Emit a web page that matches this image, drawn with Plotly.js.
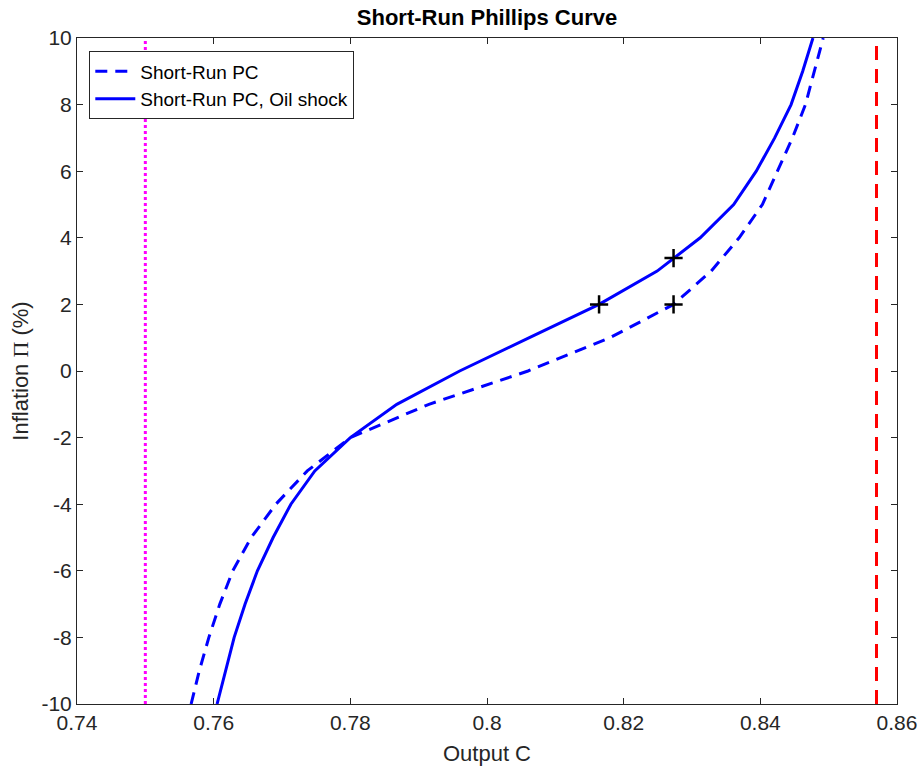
<!DOCTYPE html>
<html>
<head>
<meta charset="utf-8">
<script src="https://cdn.plot.ly/plotly-3.0.1.min.js"></script>
<style>html,body{margin:0;padding:0;background:#fff;}#chart{width:919px;height:767px;}</style>
</head>
<body>
<div id="chart"></div>
<script>
// Inflation levels (%) at which each curve is sampled
const inflation = [-10,-9,-8,-7,-6,-5,-4,-3,-2,-1,0,1,2,3,4,5,6,7,8,9,10];
// Output C for the baseline short-run Phillips curve
const outputPC = [0.7567,0.7579,0.7593,0.7609,0.7628,0.7655,0.7691,0.7737,0.7800,0.7915,0.8060,0.8180,0.8273,0.8328,0.8369,0.8403,0.8425,0.8447,0.8466,0.8479,0.8492];
// Output C for the short-run Phillips curve after the oil shock
const outputOil = [0.7605,0.7617,0.7630,0.7646,0.7664,0.7687,0.7713,0.7748,0.7800,0.7868,0.7960,0.8062,0.8164,0.8249,0.8312,0.8361,0.8394,0.8421,0.8445,0.8462,0.8477];
// Marked equilibrium points
const markX = [0.8164, 0.8273, 0.8273];
const markY = [2.0, 3.39, 2.0];
// Vertical reference lines
const magentaX = 0.75;
const redX = 0.857;
const yRange = [-10, 10];
const xRange = [0.74, 0.86];

const FONT = 'Liberation Sans, Arial, sans-serif';

const traces = [
  {x: outputPC, y: inflation, mode: 'lines', name: 'Short-Run PC',
   line: {color: '#0000ff', width: 3, dash: '12px,8px'}},
  {x: outputOil, y: inflation, mode: 'lines', name: 'Short-Run PC, Oil shock',
   line: {color: '#0000ff', width: 3}},
  {x: [magentaX, magentaX], y: yRange, mode: 'lines', showlegend: false,
   line: {color: '#ff00ff', width: 3, dash: 'dot'}},
  {x: [redX, redX], y: yRange, mode: 'lines', showlegend: false,
   line: {color: '#ff0000', width: 3, dash: '14px,9px'}},
  {x: markX, y: markY, mode: 'markers', showlegend: false,
   marker: {symbol: 'cross-thin', size: 13, color: '#000', line: {color: '#000', width: 2.5}}}
];

const axisCommon = {
  showgrid: false, zeroline: false, showline: true, mirror: 'ticks',
  linecolor: '#262626', linewidth: 1, ticks: 'inside', ticklen: 6,
  tickcolor: '#262626', tickwidth: 1,
  tickfont: {family: FONT, size: 21, color: '#262626'}
};

const layout = {
  width: 919, height: 767,
  margin: {l: 77, r: 22, t: 38, b: 63},
  paper_bgcolor: '#fff', plot_bgcolor: '#fff',
  font: {family: FONT, color: '#262626'},
  title: {text: '<b>Short-Run Phillips Curve</b>', xref: 'paper', x: 0.5, xanchor: 'center', y: 0.978, yanchor: 'middle',
          font: {family: FONT, size: 22, color: '#000'}},
  xaxis: Object.assign({}, axisCommon, {
    range: xRange, tickvals: [0.74,0.76,0.78,0.8,0.82,0.84,0.86],
    ticktext: ['0.74','0.76','0.78','0.8','0.82','0.84','0.86'],
    title: {text: 'Output C', standoff: 12, font: {family: FONT, size: 22, color: '#262626'}}
  }),
  yaxis: Object.assign({}, axisCommon, {
    range: yRange, tickvals: [-10,-8,-6,-4,-2,0,2,4,6,8,10],
    ticktext: ['-10','-8','-6','-4','-2','0','2','4','6','8','10'],
    title: {text: 'Inflation <span style="font-family:Liberation Serif, Times New Roman, serif">Π</span> (%)', standoff: 6,
            font: {family: FONT, size: 22, color: '#262626'}}
  }),
  showlegend: true,
  legend: {x: 0.015, y: 0.98, xanchor: 'left', yanchor: 'top',
           bgcolor: '#fff', bordercolor: '#262626', borderwidth: 1,
           font: {family: FONT, size: 19, color: '#000'},
           itemwidth: 40, tracegroupgap: 0}
};

Plotly.newPlot('chart', traces, layout, {displayModeBar: false, staticPlot: true});
</script>
</body>
</html>
